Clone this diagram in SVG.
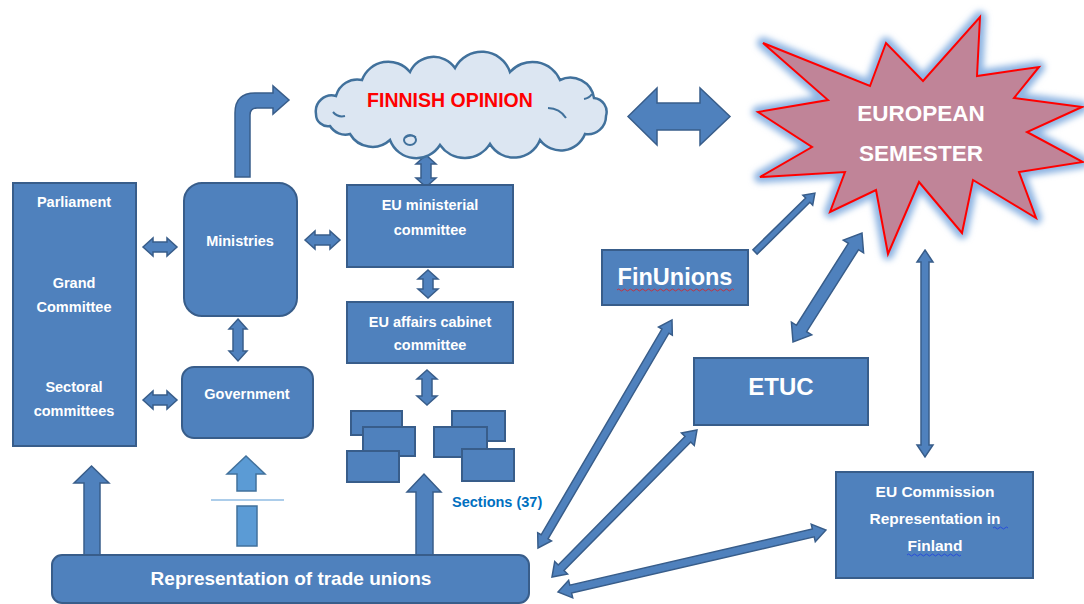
<svg xmlns="http://www.w3.org/2000/svg" width="1084" height="604" viewBox="0 0 1084 604">
<defs>
<style>
.box{fill:#4F81BD;stroke:#385D8A;stroke-width:2}
.arr{fill:#4F81BD;stroke:#385D8A;stroke-width:1.5;stroke-linejoin:miter}
.larr{fill:#5B9BD5;stroke:#41719C;stroke-width:1.5}
.t{font-family:"Liberation Sans",Arial,sans-serif;font-weight:bold;fill:#FFFFFF;text-anchor:middle}
.s{font-size:14.5px}
</style>
<filter id="glow" x="-20%" y="-20%" width="140%" height="140%">
<feGaussianBlur stdDeviation="3"/>
</filter>
</defs>
<rect width="1084" height="604" fill="#FFFFFF"/>

<g id="connectors">
<path class="arr" d="M235,177 L235,113 Q235,93 255,93 L273,93 L273,86 L289,100 L273,114 L273,108 L257,108 Q250,108 250,115 L250,177 Z"/>
<path class="arr" d="M143,247 L153,238 L153,242 L167,242 L167,238 L177,247 L167,256 L167,252 L153,252 L153,256 Z"/>
<path class="arr" d="M143,400 L153,391 L153,395 L167,395 L167,391 L177,400 L167,409 L167,405 L153,405 L153,409 Z"/>
<path class="arr" d="M305,240 L315,231 L315,235 L330,235 L330,231 L340,240 L330,249 L330,245 L315,245 L315,249 Z"/>
<path class="arr" d="M238,319 L247,329 L243,329 L243,351 L247,351 L238,361 L229,351 L233,351 L233,329 L229,329 Z"/>
<path class="arr" d="M426,155 L436,164 L431,164 L431,178 L436,178 L426,187 L416,178 L421,178 L421,164 L416,164 Z"/>
<path class="arr" d="M428,270 L438,279 L433,279 L433,289 L438,289 L428,298 L418,289 L423,289 L423,279 L418,279 Z"/>
<path class="arr" d="M427,370 L437,379 L432,379 L432,396 L437,396 L427,405 L417,396 L422,396 L422,379 L417,379 Z"/>
<path class="arr" d="M628,116.5 L657,88 L657,103 L700,103 L700,88 L730,116.5 L700,145 L700,130 L657,130 L657,145 Z"/>
<path class="arr" d="M74,483 L91.5,466 L109,483 L100,483 L100,556 L84,556 L84,483 Z"/>
<path class="arr" d="M407,492 L424,474 L441,492 L433,492 L433,556 L416,556 L416,492 Z"/>
<path class="larr" d="M227,474 L246,456 L265,474 L256,474 L256,491 L237,491 L237,474 Z"/>
<line x1="211" y1="500" x2="284" y2="500" stroke="#5B9BD5" stroke-width="1.2"/>
<rect class="larr" x="237" y="506" width="20" height="40"/>
<path class="arr" transform="translate(538,548) rotate(-59.56)" d="M0,0 L13,-8 L13,-4 L251.5,-4 L251.5,-8 L264.5,0 L251.5,8 L251.5,4 L13,4 L13,8 Z"/>
<path class="arr" transform="translate(552,577) rotate(-45.4)" d="M0,0 L13,-9 L13,-4 L193.5,-4 L193.5,-9 L206.5,0 L193.5,9 L193.5,4 L13,4 L13,9 Z"/>
<path class="arr" transform="translate(558,592) rotate(-13.03)" d="M0,0 L13,-9 L13,-4 L262,-4 L262,-9 L275,0 L262,9 L262,4 L13,4 L13,9 Z"/>
<path class="arr" transform="translate(755,252) rotate(-44.5)" d="M0,-3 L74,-3 L74,-7 L84,0 L74,7 L74,3 L0,3 Z"/>
<path class="arr" transform="translate(793,342) rotate(-57.67)" d="M0,0 L16,-12 L16,-6 L113,-6 L113,-12 L129,0 L113,12 L113,6 L16,6 L16,12 Z"/>
<path class="arr" transform="translate(925,250) rotate(90)" d="M0,0 L12,-8 L12,-4 L195,-4 L195,-8 L207,0 L195,8 L195,4 L12,4 L12,8 Z"/>
</g>

<g id="parliament">
<rect class="box" x="13" y="183" width="123" height="263"/>
<text class="t s" x="74" y="207">Parliament</text>
<text class="t s" x="74" y="288">Grand</text>
<text class="t s" x="74" y="312">Committee</text>
<text class="t s" x="74" y="392">Sectoral</text>
<text class="t s" x="74" y="416">committees</text>
</g>

<g id="ministries">
<rect class="box" x="184" y="183" width="113" height="133" rx="18"/>
<text class="t s" x="240" y="246">Ministries</text>
</g>

<g id="government">
<rect class="box" x="182" y="367" width="131" height="71" rx="12"/>
<text class="t s" x="247" y="399">Government</text>
</g>

<g id="eu-ministerial">
<rect class="box" x="347" y="185" width="166" height="82"/>
<text class="t s" x="430" y="210">EU ministerial</text>
<text class="t s" x="430" y="235">committee</text>
</g>

<g id="eu-affairs">
<rect class="box" x="347" y="302" width="166" height="61"/>
<text class="t s" x="430" y="327">EU affairs cabinet</text>
<text class="t s" x="430" y="350">committee</text>
</g>

<g id="sections">
<rect class="box" x="351" y="411" width="51" height="24"/>
<rect class="box" x="363" y="427" width="52" height="29"/>
<rect class="box" x="347" y="451" width="52" height="31"/>
<rect class="box" x="452" y="411" width="53" height="30"/>
<rect class="box" x="434" y="427" width="53" height="30"/>
<rect class="box" x="462" y="449" width="52" height="32"/>
<text x="452" y="507" font-family="Liberation Sans, Arial, sans-serif" font-weight="bold" font-size="14.5" fill="#0070C0">Sections (37)</text>
</g>

<g id="finnish-opinion">
<path d="M316,114 A16,16 0 0 1 336,96 A22,22 0 0 1 362,80 A28,28 0 0 1 410,72 A26,26 0 0 1 455,68 A30,30 0 0 1 510,72 A30,30 0 0 1 560,80 A24,24 0 0 1 594,98 A14,14 0 0 1 606,116 A18,18 0 0 1 585,134 A26,26 0 0 1 540,140 A28,28 0 0 1 490,144 A30,30 0 0 1 440,145 A28,28 0 0 1 390,140 A26,26 0 0 1 350,134 A18,18 0 0 1 330,126 A12,12 0 0 1 316,114 Z" fill="#DCE6F2" stroke="#41719C" stroke-width="2.5"/>
<path d="M584,99 A12,12 0 0 0 592,94 M548,108 A22,22 0 0 1 566,118 M333,112 A12,12 0 0 0 345,116" fill="none" stroke="#41719C" stroke-width="2"/>
<ellipse cx="410" cy="140" rx="6" ry="5" fill="#DCE6F2" stroke="#41719C" stroke-width="2"/>
<path d="M405,138 Q410,134 416,137" fill="none" stroke="#41719C" stroke-width="1.5"/>
<text x="450" y="107" font-family="Liberation Sans, Arial, sans-serif" font-weight="bold" font-size="19.5" fill="#FF0000" text-anchor="middle">FINNISH OPINION</text>
</g>

<g id="european-semester">
<polygon points="763,43 870,86 886,43 923,81 980,17 977,76 1039,67 1014,98 1082,107 1027,132 1083,162 1019,172 1036,218 973,180 962,233 919,182 888,254 876,190 830,212 845,172 760,177 812,147 758,112 828,100" fill="none" stroke="#8DB4E2" stroke-width="12" stroke-linejoin="round" filter="url(#glow)"/>
<polygon points="763,43 870,86 886,43 923,81 980,17 977,76 1039,67 1014,98 1082,107 1027,132 1083,162 1019,172 1036,218 973,180 962,233 919,182 888,254 876,190 830,212 845,172 760,177 812,147 758,112 828,100" fill="#C08498" stroke="#FF0000" stroke-width="2"/>
<text class="t" x="921" y="121" font-size="22.5">EUROPEAN</text>
<text class="t" x="921" y="161" font-size="22.5">SEMESTER</text>
</g>

<g id="finunions">
<rect class="box" x="602" y="250" width="146" height="55"/>
<text class="t" x="675" y="285" font-size="23.5">FinUnions</text>
<path d="M617,290 q1.5,-2 3,0 t3,0 t3,0 t3,0 t3,0 t3,0 t3,0 t3,0 t3,0 t3,0 t3,0 t3,0 t3,0 t3,0 t3,0 t3,0 t3,0 t3,0 t3,0 t3,0 t3,0 t3,0 t3,0 t3,0 t3,0 t3,0 t3,0 t3,0 t3,0 t3,0 t3,0 t3,0 t3,0 t3,0 t3,0 t3,0 t3,0 t3,0 t3,0" fill="none" stroke="#E02020" stroke-width="0.8"/>
</g>

<g id="etuc">
<rect class="box" x="694" y="358" width="174" height="67"/>
<text class="t" x="781" y="395" font-size="24">ETUC</text>
</g>

<g id="eu-commission">
<rect class="box" x="836" y="472" width="197" height="106"/>
<text class="t" x="935" y="497" font-size="15.5">EU Commission</text>
<text class="t" x="935" y="524" font-size="15.5">Representation in</text>
<text class="t" x="935" y="551" font-size="15.5">Finland</text>
<path d="M993,528 q1.5,-2 3,0 t3,0 t3,0 t3,0 t3,0" fill="none" stroke="#2040E0" stroke-width="0.8"/>
<path d="M907,555 q1.5,-2 3,0 t3,0 t3,0 t3,0 t3,0 t3,0 t3,0 t3,0 t3,0 t3,0 t3,0 t3,0 t3,0 t3,0 t3,0 t3,0 t3,0 t3,0" fill="none" stroke="#2040E0" stroke-width="0.8"/>
</g>

<g id="trade-unions">
<rect class="box" x="52" y="555" width="477" height="48" rx="10"/>
<text class="t" x="291" y="585" font-size="19">Representation of trade unions</text>
</g>
</svg>
